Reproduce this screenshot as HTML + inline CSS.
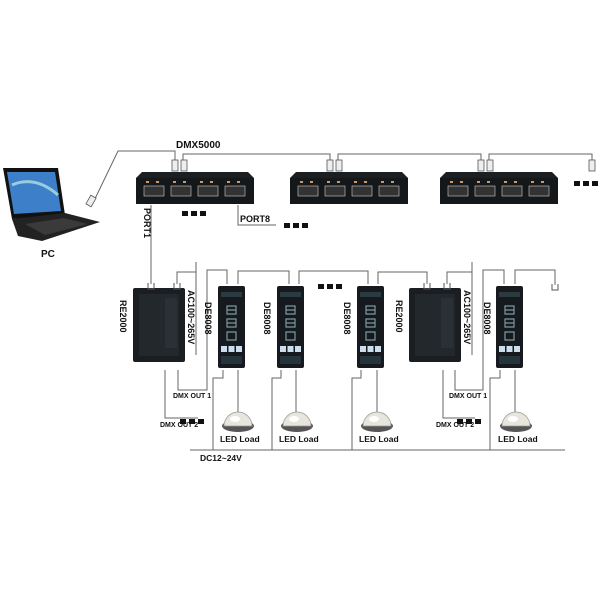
<!DOCTYPE html>
<html><head><meta charset="utf-8"><style>
html,body{margin:0;padding:0;background:#fff}
svg{display:block}
text{font-family:"Liberation Sans",Arial,sans-serif;font-weight:bold;fill:#111}
</style></head><body>
<svg width="600" height="600" viewBox="0 0 600 600" xmlns="http://www.w3.org/2000/svg">
<defs>
  <g id="hub">
    <polygon points="0,6 6,0 112,0 118,6 118,32 0,32" fill="#1c1f22"/>
    <rect x="0" y="6" width="118" height="26" fill="#15181a"/>
    <g fill="#9aa" stroke="#ccc" stroke-width="0.6">
      <rect x="8" y="14" width="20" height="10" fill="#333"/>
      <rect x="35" y="14" width="20" height="10" fill="#333"/>
      <rect x="62" y="14" width="20" height="10" fill="#333"/>
      <rect x="89" y="14" width="20" height="10" fill="#333"/>
    </g>
    <g fill="#c96" ><rect x="10" y="9" width="3" height="2"/><rect x="20" y="9" width="3" height="2"/><rect x="37" y="9" width="3" height="2"/><rect x="47" y="9" width="3" height="2"/><rect x="64" y="9" width="3" height="2"/><rect x="74" y="9" width="3" height="2"/><rect x="91" y="9" width="3" height="2"/><rect x="101" y="9" width="3" height="2"/></g>
  </g>
  <g id="de">
    <rect x="0" y="0" width="27" height="82" rx="2" fill="#161a1e"/>
    <rect x="3" y="6" width="21" height="5" fill="#2a3a40"/>
    <g stroke="#7a9aa0" stroke-width="1.2" fill="none">
      <path d="M9,20 h9 v8 h-9 z M9,24 h9"/>
      <path d="M9,33 h9 v8 h-9 z M9,37 h9"/>
      <path d="M9,46 h9 v8 h-9 z"/>
    </g>
    <rect x="3" y="60" width="6" height="6" fill="#cde"/>
    <rect x="10.5" y="60" width="6" height="6" fill="#cde"/>
    <rect x="18" y="60" width="6" height="6" fill="#cde"/>
    <rect x="3" y="70" width="21" height="8" fill="#24343a"/>
  </g>
  <g id="re">
    <rect x="0" y="0" width="52" height="74" rx="2" fill="#1a1e22"/>
    <rect x="6" y="6" width="40" height="62" fill="#22282c"/>
    <rect x="32" y="10" width="12" height="50" fill="#2a3035"/>
  </g>
  <g id="led">
    <ellipse cx="0" cy="8" rx="16" ry="6" fill="#555"/>
    <path d="M-14,8 A14,14 0 0 1 14,8 Z" fill="#e8e6dc" stroke="#999" stroke-width="0.8"/>
    <ellipse cx="-3" cy="1" rx="5" ry="3" fill="#fff"/>
  </g>
  <g id="conn"><path d="M0,0 v6 h6 v-6" fill="none" stroke="#555" stroke-width="1"/></g>
</defs>

<!-- laptop -->
<polygon points="3,168 58,168 65,215 12,219" fill="#111"/>
<polygon points="7,172 55,172 61,211 14,214" fill="#3d7fc8"/>
<path d="M12,185 Q35,175 58,195" stroke="#9cd" stroke-width="3" fill="none"/>
<polygon points="12,219 65,213 100,222 42,241 18,236" fill="#222"/>
<polygon points="25,224 64,218 88,224 45,235" fill="#3a3a3a"/>

<text x="41" y="257" font-size="10">PC</text>
<text x="176" y="148" font-size="10">DMX5000</text>

<g stroke="#666" stroke-width="1" fill="none">
  <!-- top DMX line -->
  <path d="M92,205 L118,151 H175 V160"/>
  <path d="M183,160 V154 H330 V160"/>
  <path d="M338,160 V154 H481 V160"/>
  <path d="M489,160 V154 H592 V160"/>
  <!-- PORT lines -->
  <path d="M151,205 V284"/>
  <path d="M238,205 V225 H276"/>
  <!-- RE1 -->
  <path d="M177,284 V272 H196"/>
  <path d="M196,262 V355"/>
  <path d="M227,284 V270 H207 V390 H178 V370"/>
  <path d="M165,370 V418 H198"/>
  <path d="M238,284 V271 H289 V284"/>
  <path d="M299,284 V271 H368 V284"/>
  <path d="M378,284 V272 H427 V284"/>
  <path d="M447,284 V272 H472"/>
  <path d="M472,262 V355"/>
  <path d="M504,284 V270 H483 V390 H455 V370"/>
  <path d="M443,370 V418 H475"/>
  <path d="M515,284 V270 H555 V285"/>
  <!-- DC line -->
  <path d="M190,450 H565"/>
  <path d="M223,370 V378 H213 V450"/>
  <path d="M281,370 V378 H272 V450"/>
  <path d="M361,370 V378 H352 V450"/>
  <path d="M500,370 V378 H490 V450"/>
  <!-- LED -->
  <path d="M238,370 V412"/><path d="M296,370 V412"/><path d="M377,370 V412"/><path d="M515,370 V412"/>
</g>
<!-- connectors -->
<g fill="#eee" stroke="#555" stroke-width="0.8">
  <rect x="88" y="196" width="6" height="10" transform="rotate(30 91 201)"/>
  <rect x="172" y="160" width="6" height="11"/><rect x="181" y="160" width="6" height="11"/>
  <rect x="327" y="160" width="6" height="11"/><rect x="336" y="160" width="6" height="11"/>
  <rect x="478" y="160" width="6" height="11"/><rect x="487" y="160" width="6" height="11"/>
  <rect x="589" y="160" width="6" height="11"/>
</g>
<use href="#hub" x="136" y="172"/>
<use href="#hub" x="290" y="172"/>
<use href="#hub" x="440" y="172"/>

<g fill="#111">
  <rect x="182" y="211" width="6" height="5"/><rect x="191" y="211" width="6" height="5"/><rect x="200" y="211" width="6" height="5"/>
  <rect x="284" y="223" width="6" height="5"/><rect x="293" y="223" width="6" height="5"/><rect x="302" y="223" width="6" height="5"/>
  <rect x="574" y="181" width="6" height="5"/><rect x="583" y="181" width="6" height="5"/><rect x="592" y="181" width="6" height="5"/>
  <rect x="318" y="284" width="6" height="5"/><rect x="327" y="284" width="6" height="5"/><rect x="336" y="284" width="6" height="5"/>
  <rect x="180" y="419" width="6" height="5"/><rect x="189" y="419" width="6" height="5"/><rect x="198" y="419" width="6" height="5"/>
  <rect x="457" y="419" width="6" height="5"/><rect x="466" y="419" width="6" height="5"/><rect x="475" y="419" width="6" height="5"/>
</g>
<text x="240" y="222" font-size="9">PORT8</text>
<text x="144" y="208" font-size="9" transform="rotate(90 144 208)">PORT1</text>

<use href="#re" x="133" y="288"/>
<use href="#re" x="409" y="288"/>
<use href="#de" x="218" y="286"/>
<use href="#de" x="277" y="286"/>
<use href="#de" x="357" y="286"/>
<use href="#de" x="496" y="286"/>
<g>
<use href="#conn" x="148" y="283"/><use href="#conn" x="174" y="283"/>
<use href="#conn" x="424" y="283"/><use href="#conn" x="444" y="283"/>
<use href="#conn" x="552" y="284"/>
</g>

<g font-size="9">
<text x="120" y="300" transform="rotate(90 120 300)">RE2000</text>
<text x="396" y="300" transform="rotate(90 396 300)">RE2000</text>
<text x="188" y="290" transform="rotate(90 188 290)">AC100~265V</text>
<text x="464" y="290" transform="rotate(90 464 290)">AC100~265V</text>
<text x="205" y="302" transform="rotate(90 205 302)">DE8008</text>
<text x="264" y="302" transform="rotate(90 264 302)">DE8008</text>
<text x="344" y="302" transform="rotate(90 344 302)">DE8008</text>
<text x="484" y="302" transform="rotate(90 484 302)">DE8008</text>
</g>
<g font-size="7">
<text x="173" y="398">DMX OUT 1</text>
<text x="160" y="427">DMX OUT 2</text>
<text x="449" y="398">DMX OUT 1</text>
<text x="436" y="427">DMX OUT 2</text>
</g>
<use href="#led" x="238" y="418"/>
<use href="#led" x="297" y="418"/>
<use href="#led" x="377" y="418"/>
<use href="#led" x="516" y="418"/>
<g font-size="8.5">
<text x="220" y="442">LED Load</text>
<text x="279" y="442">LED Load</text>
<text x="359" y="442">LED Load</text>
<text x="498" y="442">LED Load</text>
<text x="200" y="461">DC12~24V</text>
</g>
</svg>
</body></html>
